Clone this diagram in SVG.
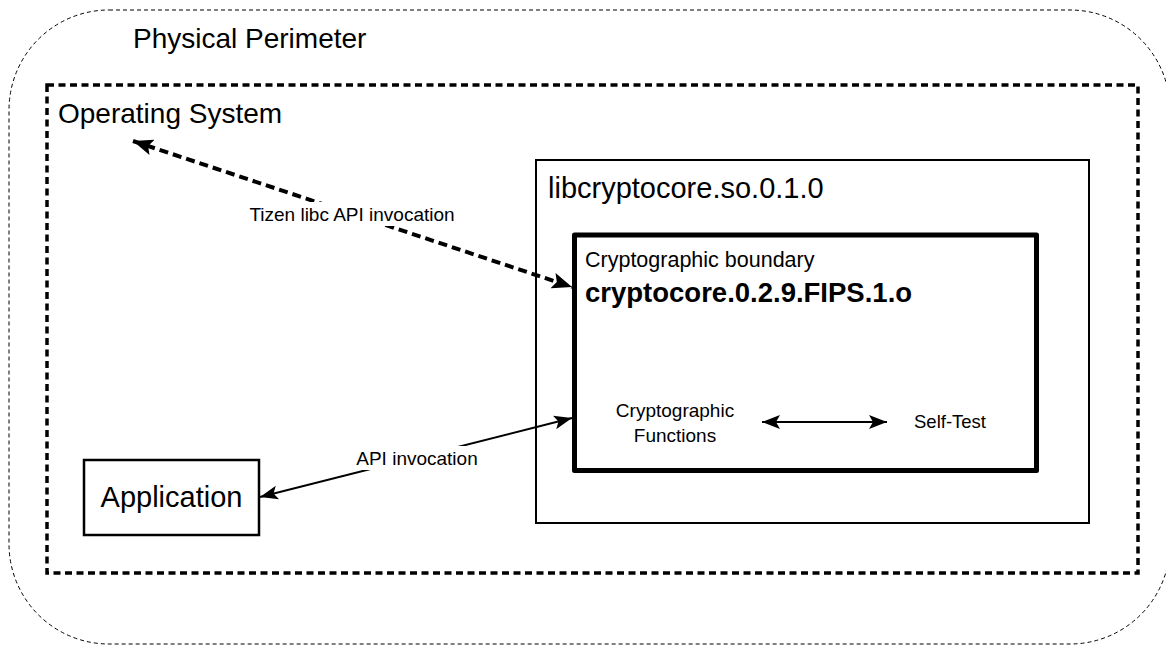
<svg xmlns="http://www.w3.org/2000/svg" width="1166" height="645" viewBox="0 0 1166 645">
<style>
  text { font-family: "Liberation Sans", Arial, sans-serif; fill: #000; }
  .perim { fill: none; stroke: #000; stroke-width: 1; stroke-dasharray: 4 3; }
  .os { fill: none; stroke: #000; stroke-width: 3.5; stroke-dasharray: 7 4.5; }
  .lib { fill: #fff; stroke: #000; stroke-width: 2; }
  .cb { fill: #fff; stroke: #000; stroke-width: 5; stroke-linejoin: round; }
  .app { fill: #fff; stroke: #000; stroke-width: 2.5; }
  .solid { fill: none; stroke: #000; stroke-width: 2; }
  .dash { fill: none; stroke: #000; stroke-width: 4; stroke-dasharray: 9 5; }
  .bg { fill: #fff; stroke: none; }
</style>
<defs>
  <marker id="ah" markerUnits="userSpaceOnUse" viewBox="0 0 18 14" refX="18" refY="7" markerWidth="18" markerHeight="14" orient="auto-start-reverse">
    <path d="M0,0 L18,7 L0,14 L4,7 Z" fill="#000"/>
  </marker>
  <marker id="ahd" markerUnits="userSpaceOnUse" viewBox="0 0 20 16" refX="20" refY="8" markerWidth="20" markerHeight="16" orient="auto-start-reverse">
    <path d="M0,0 L20,8 L0,16 L4,8 Z" fill="#000"/>
  </marker>
</defs>

<g id="physical-perimeter">
  <rect class="perim" x="9" y="10" width="1161" height="634" rx="100" ry="100"/>
  <text x="133" y="48" font-size="28">Physical Perimeter</text>
</g>

<g id="operating-system">
  <rect class="os" x="47" y="85" width="1091" height="488"/>
  <text x="58" y="123" font-size="28">Operating System</text>
</g>

<g id="libcryptocore">
  <rect class="lib" x="536" y="160" width="553" height="363"/>
  <text x="548" y="198" font-size="29">libcryptocore.so.0.1.0</text>
</g>

<g id="cryptographic-boundary">
  <rect class="cb" x="574.5" y="235" width="462" height="235.5"/>
  <text x="585" y="267" font-size="21.5">Cryptographic boundary</text>
  <text x="585" y="302" font-size="27.5" font-weight="bold">cryptocore.0.2.9.FIPS.1.o</text>
</g>

<g id="cryptographic-functions">
  <text x="675" y="417" font-size="19" text-anchor="middle">Cryptographic</text>
  <text x="675" y="442" font-size="19" text-anchor="middle">Functions</text>
</g>

<g id="self-test">
  <text x="950" y="428" font-size="18.5" text-anchor="middle">Self-Test</text>
</g>

<g id="application">
  <rect class="app" x="84" y="460" width="175" height="75"/>
  <text x="171.5" y="507" font-size="29" text-anchor="middle">Application</text>
</g>

<g id="connectors">
  <line class="dash" x1="133" y1="141" x2="572" y2="287" marker-start="url(#ahd)" marker-end="url(#ahd)"/>
  <rect class="bg" x="244" y="202" width="216" height="24"/>
  <text x="352" y="221" font-size="19" text-anchor="middle">Tizen libc API invocation</text>

  <line class="solid" x1="260" y1="497" x2="572" y2="418" marker-start="url(#ah)" marker-end="url(#ah)"/>
  <rect class="bg" x="352" y="446" width="130" height="24"/>
  <text x="417" y="465" font-size="19" text-anchor="middle">API invocation</text>

  <line class="solid" x1="762" y1="422" x2="887" y2="422" marker-start="url(#ah)" marker-end="url(#ah)"/>
</g>
</svg>
